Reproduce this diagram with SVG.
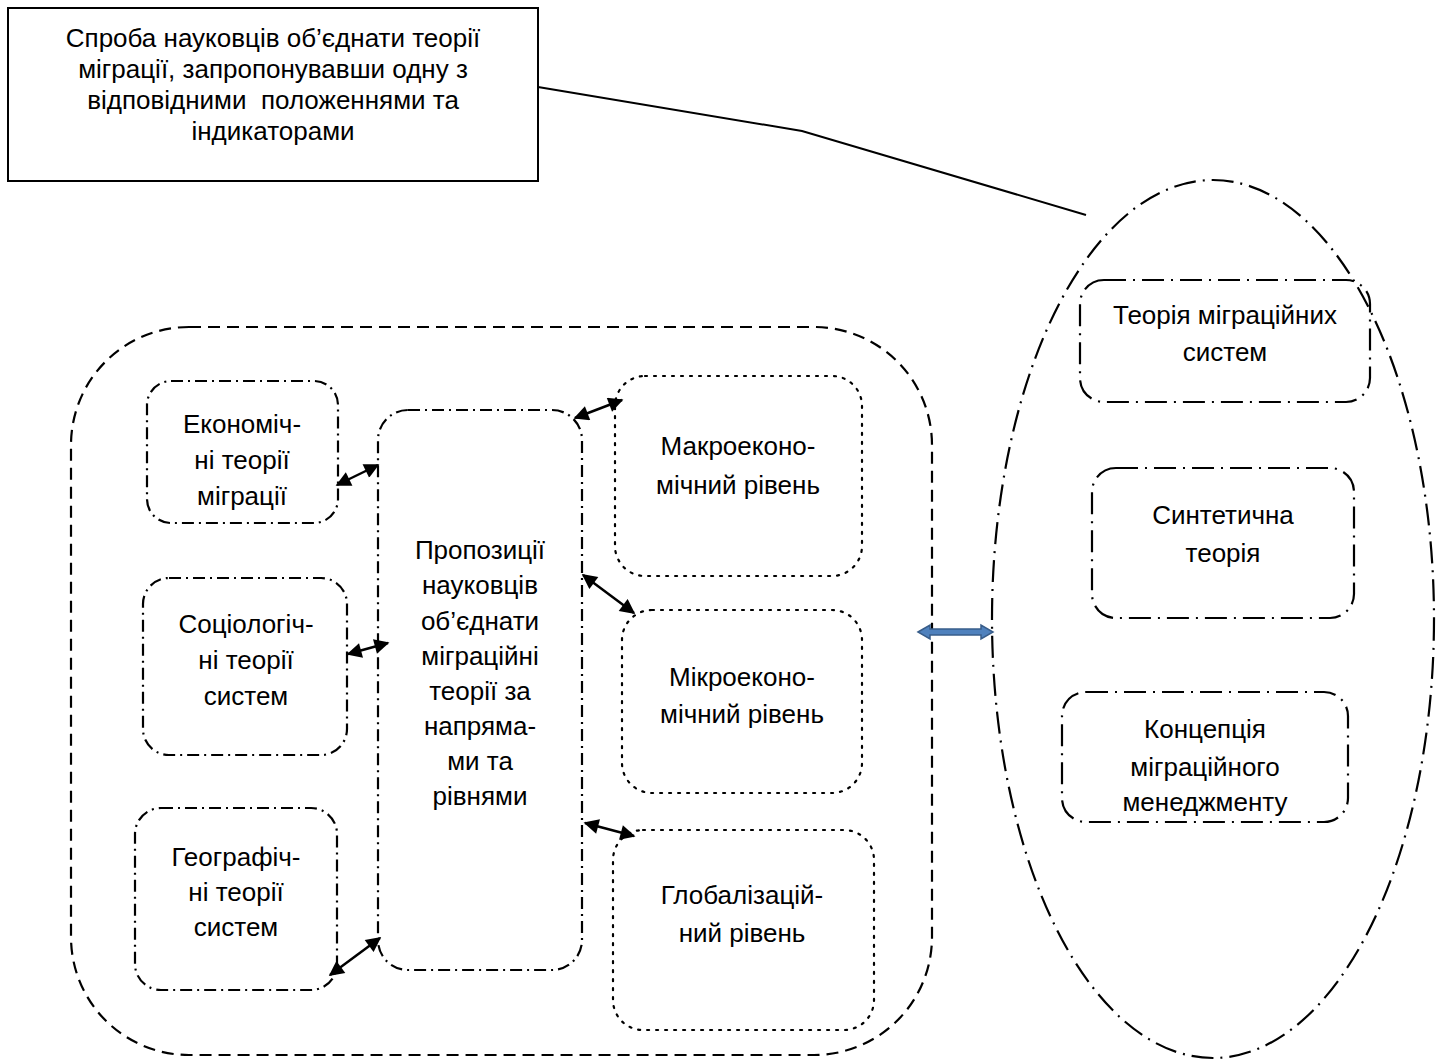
<svg xmlns="http://www.w3.org/2000/svg" width="1440" height="1062" viewBox="0 0 1440 1062">
<style>
text{font-family:"Liberation Sans",Arial,sans-serif;fill:#000;text-anchor:middle}
.t{font-size:26px}
.c{font-size:26px}
.dd{fill:none;stroke:#000;stroke-width:2.2;stroke-dasharray:12 5 2 5}
.dot{fill:none;stroke:#000;stroke-width:2.2;stroke-dasharray:2 7;stroke-linecap:round}
.dash{fill:none;stroke:#000;stroke-width:2.2;stroke-dasharray:12 7}
.ld{fill:none;stroke:#000;stroke-width:2.2;stroke-dasharray:22 7 2 7}
.ar{stroke:#000;stroke-width:2.5;fill:none;marker-start:url(#ah);marker-end:url(#ah)}
</style>
<defs>
<marker id="ah" viewBox="0 0 10 10" refX="9" refY="5" markerWidth="17" markerHeight="15" markerUnits="userSpaceOnUse" orient="auto-start-reverse">
<path d="M0,0 L10,5 L0,10 Z" fill="#000"/>
</marker>
</defs>
<rect id="bg" x="0" y="0" width="1440" height="1062" fill="#fff"/>

<g id="callout">
<rect x="8" y="8" width="530" height="173" fill="#fff" stroke="#000" stroke-width="2"/>
<text class="c" x="273" y="47">Спроба науковців об’єднати теорії</text>
<text class="c" x="273" y="78">міграції, запропонувавши одну з</text>
<text class="c" x="273" y="109">відповідними&#160; положеннями та</text>
<text class="c" x="273" y="140">індикаторами</text>
</g>

<g id="group-left">
<rect class="dash" x="71" y="327" width="861" height="728" rx="118" ry="118"/>
</g>

<g id="group-right">
<ellipse class="ld" cx="1213" cy="619" rx="221" ry="439"/>
</g>

<g id="n-econ">
<rect class="dd" x="147" y="381" width="191" height="142" rx="24"/>
<text class="t" x="242" y="433">Економіч-</text>
<text class="t" x="242" y="469">ні теорії</text>
<text class="t" x="242" y="505">міграції</text>
</g>
<g id="n-socio">
<rect class="dd" x="143" y="578" width="204" height="177" rx="26"/>
<text class="t" x="246" y="633">Соціологіч-</text>
<text class="t" x="246" y="669">ні теорії</text>
<text class="t" x="246" y="705">систем</text>
</g>
<g id="n-geo">
<rect class="dd" x="135" y="808" width="202" height="182" rx="26"/>
<text class="t" x="236" y="866">Географіч-</text>
<text class="t" x="236" y="901">ні теорії</text>
<text class="t" x="236" y="936">систем</text>
</g>
<g id="n-center">
<rect class="dd" x="378" y="410" width="204" height="560" rx="30"/>
<text class="t" x="480" y="559">Пропозиції</text>
<text class="t" x="480" y="594">науковців</text>
<text class="t" x="480" y="630">об’єднати</text>
<text class="t" x="480" y="665">міграційні</text>
<text class="t" x="480" y="700">теорії за</text>
<text class="t" x="480" y="735">напряма-</text>
<text class="t" x="480" y="770">ми та</text>
<text class="t" x="480" y="805">рівнями</text>
</g>
<g id="n-macro">
<rect class="dot" x="615" y="376" width="247" height="200" rx="30"/>
<text class="t" x="738" y="455">Макроеконо-</text>
<text class="t" x="738" y="494">мічний рівень</text>
</g>
<g id="n-micro">
<rect class="dot" x="622" y="610" width="240" height="183" rx="30"/>
<text class="t" x="742" y="686">Мікроеконо-</text>
<text class="t" x="742" y="723">мічний рівень</text>
</g>
<g id="n-glob">
<rect class="dot" x="613" y="830" width="261" height="200" rx="30"/>
<text class="t" x="742" y="904">Глобалізацій-</text>
<text class="t" x="742" y="942">ний рівень</text>
</g>
<g id="n-mig-sys">
<rect class="ld" x="1080" y="280" width="290" height="122" rx="24"/>
<text class="t" x="1225" y="324">Теорія міграційних</text>
<text class="t" x="1225" y="361">систем</text>
</g>
<g id="n-synth">
<rect class="ld" x="1092" y="468" width="262" height="150" rx="24"/>
<text class="t" x="1223" y="524">Синтетична</text>
<text class="t" x="1223" y="562">теорія</text>
</g>
<g id="n-mgmt">
<rect class="ld" x="1062" y="692" width="286" height="130" rx="24"/>
<text class="t" x="1205" y="738">Концепція</text>
<text class="t" x="1205" y="776">міграційного</text>
<text class="t" x="1205" y="811">менеджменту</text>
</g>

<g id="connectors">
<polyline points="538,87 802,131 1086,215" fill="none" stroke="#000" stroke-width="2"/>
<line class="ar" x1="337" y1="485" x2="378" y2="465"/>
<line class="ar" x1="348" y1="654" x2="388" y2="643"/>
<line class="ar" x1="330" y1="975" x2="380" y2="938"/>
<line class="ar" x1="575" y1="418" x2="622" y2="400"/>
<line class="ar" x1="583" y1="575" x2="634" y2="613"/>
<line class="ar" x1="585" y1="823" x2="634" y2="836"/>
<path d="M918,632 L930,625 L930,629 L981,629 L981,625 L993,632 L981,639 L981,635 L930,635 L930,639 Z" fill="#4F81BD" stroke="#385D8A" stroke-width="1.5"/>
</g>
</svg>
